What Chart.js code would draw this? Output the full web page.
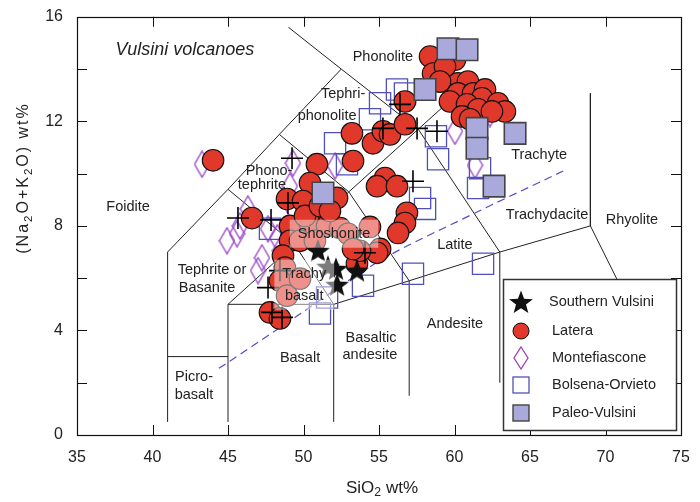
<!DOCTYPE html>
<html><head><meta charset="utf-8">
<script src="https://cdn.jsdelivr.net/npm/chart.js@4.4.1/dist/chart.umd.min.js"></script>
<style>html,body{margin:0;padding:0;background:#fff;}canvas{display:block;}</style>
</head><body>
<canvas id="c" width="700" height="502"></canvas>
<script>
const FONT = '"Liberation Sans", Arial, Helvetica, sans-serif';

// ---------- data ----------
const xTickMarks = [40, 45, 50, 55, 60, 65, 70];
const yTickMarks = [2, 4, 6, 8, 10, 12, 14];

// TAS field boundaries (SiO2, Na2O+K2O)
const tasFoidite = [[41,0.5],[41,7],[45,9.4],[48.4,11.5],[52.5,14]];
const tasPhonoliteTop = [[49,15.6],[52.5,14]];
const tasPhonoliteBase = [[52.5,14],[57.6,11.7],[63,7]];
const tasPicro = [[41,3],[45,3]];
const tasAlkaliUpper = [[45,0.5],[45,5],[49.4,7.3],[53,9.3],[57.6,11.7],[60,12.95]];
const tasSubalkaline = [[45,5],[52,5],[57,5.9],[63,7],[69,8]];
const tasBasalt = [[52,0.5],[52,5]];
const tasAndesite = [[57,1.5],[57,5.9]];
const tasDacite = [[63,2],[63,7]];
const tasTrachybasalt = [[45,9.4],[49.4,7.3],[52,5]];
const tasTrachyandesite = [[48.4,11.5],[53,9.3],[57,5.9]];
const tasRhyolite = [[69,13.07],[69,8],[71.5,5.1]];
const alkalineDivide = [[44.4,2.55],[48.45,4.11],[55.07,6.67],[60.56,8.27],[67.2,10.1]];

const montefiascone = [[43.28,10.36],[49.30,10.40],[52.09,10.29],[49.10,9.52],[46.32,8.65],[45.79,8.00],
  [45.60,7.70],[44.93,7.43],[47.25,6.78],[46.99,6.29],[48.44,7.05],[48.25,7.54],[47.65,7.89],[49.30,8.65],
  [60.03,11.62],[62.35,12.30],[61.36,10.32]];
const bolsenaOrvieto = [[56.19,13.22],[55.07,12.69],[54.40,12.08],[52.09,11.16],[52.88,10.36],[47.78,7.89],
  [51.09,4.65],[51.56,5.26],[53.94,5.71],[57.25,6.17],[57.72,9.07],[58.05,8.65],[58.77,11.43],[58.91,10.55],
  [61.89,6.55],[61.69,10.21],[61.56,9.45],[56.72,13.07]];
const latera = [[58.38,14.48],[58.58,13.83],[60.03,14.36],[59.37,14.10],[60.23,13.45],[60.89,13.52],[59.04,13.52],
  [60.23,13.07],[61.23,13.07],[62.02,13.22],[59.70,12.76],[61.82,12.88],[60.83,12.65],[61.56,12.46],[62.88,12.69],
  [63.34,12.38],[62.48,12.38],[60.50,12.19],[61.03,12.08],[56.72,12.76],
  [53.21,11.54],[54.60,11.16],[55.26,11.62],[55.73,11.50],[56.72,11.89],[53.28,10.48],[50.89,10.36],[44.01,10.51],
  [50.43,9.64],[48.91,9.03],[49.97,8.95],[52.22,9.07],[55.40,9.83],[54.87,9.52],[56.19,9.52],[56.85,8.50],
  [56.72,8.11],[56.26,7.73],[55.07,7.12],[53.54,6.55],[54.87,6.97],[53.74,7.05],[46.59,8.30],[49.11,8.00],
  [49.11,7.43],[48.64,6.86],[47.78,4.69],[48.44,4.46],[50.43,8.08],[51.56,8.00],[52.42,7.92],[52.95,7.70],
  [53.28,7.12],[54.40,7.96],[48.77,6.40],[48.44,5.90],[48.91,5.33],[49.77,5.98],[50.10,8.38],[51.09,8.76],
  [49.77,7.43],[50.76,7.43],[51.75,8.57]];
const paleoVulsini = [[59.57,14.78],[60.83,14.74],[58.05,13.22],[61.49,11.73],[61.49,10.97],[64.01,11.54],
  [62.62,9.52],[51.29,9.26]];
const unlabelledCrosses = [[49.24,10.59],[55.26,11.73],[56.39,12.65],[57.52,11.73],[58.84,11.62],[57.25,9.71],
  [45.66,8.30],[47.85,8.23],[48.97,8.88],[48.44,6.29],[47.65,5.64],[47.91,4.69],[48.58,4.50],[54.07,6.97]];
const southernVulsini = [[50.96,7.05],[51.62,6.44],[52.15,6.36],[52.22,5.75],[53.54,6.29]];

const seriesNames = ['Southern Vulsini','Latera','Montefiascone','Bolsena-Orvieto','Paleo-Vulsini'];

const regionLabels = [
  {t:['Phonolite'], x:55.26, y:14.48},
  {t:['Tephri-'], x:52.62, y:13.03},
  {t:['phonolite'], x:51.56, y:12.19},
  {t:['Phono-'], x:47.72, y:10.10},
  {t:['tephrite'], x:47.25, y:9.56},
  {t:['Foidite'], x:38.38, y:8.72},
  {t:['Tephrite or'], x:43.94, y:6.32},
  {t:['Basanite'], x:43.61, y:5.64},
  {t:['Shoshonite'], x:52.02, y:7.70, box:true},
  {t:['Trachy','basalt'], x:50.05, y:5.75, box:true},
  {t:['Basalt'], x:49.77, y:2.93},
  {t:['Picro-'], x:42.75, y:2.21},
  {t:['basalt'], x:42.75, y:1.52},
  {t:['Basaltic'], x:54.47, y:3.70},
  {t:['andesite'], x:54.40, y:3.05},
  {t:['Andesite'], x:60.03, y:4.23},
  {t:['Latite'], x:60.03, y:7.28},
  {t:['Trachydacite'], x:66.13, y:8.42},
  {t:['Rhyolite'], x:71.75, y:8.23},
  {t:['Trachyte'], x:65.60, y:10.70}
];

// ---------- marker images ----------
const COL = {
  latera:'#e0382a', mont:'#9640c8', bols:'#5050b8', paleoFill:'#a9a9dc', paleoLine:'#444', star:'#111'
};
function makeDiamond(w,h,color){
  const c=document.createElement('canvas'); c.width=w; c.height=h;
  const g=c.getContext('2d'); g.strokeStyle=color; g.lineWidth=1.3;
  g.beginPath(); g.moveTo(w/2,1); g.lineTo(w-1,h/2); g.lineTo(w/2,h-1); g.lineTo(1,h/2); g.closePath(); g.stroke();
  return c;
}
function makeStar(s,color){
  const c=document.createElement('canvas'); c.width=s; c.height=s;
  const g=c.getContext('2d'); g.fillStyle=color;
  const R=s/2-0.5, r=R*0.42, cx=s/2, cy=s/2+1;
  g.beginPath();
  for(let i=0;i<10;i++){const a=-Math.PI/2+i*Math.PI/5; const rr=i%2?r:R; g.lineTo(cx+rr*Math.cos(a), cy+rr*Math.sin(a));}
  g.closePath(); g.fill();
  return c;
}
const diamondImg = makeDiamond(17,28,COL.mont);
const starImg = makeStar(26,COL.star);

function pts(a){return a.map(p=>({x:p[0],y:p[1]}));}

const datasets = [];
[tasFoidite,tasPhonoliteTop,tasPhonoliteBase,tasPicro,tasAlkaliUpper,tasSubalkaline,tasBasalt,tasAndesite,
 tasDacite,tasTrachybasalt,tasTrachyandesite,tasRhyolite].forEach(seg=>{
  datasets.push({type:'line',data:pts(seg),borderColor:'#222',borderWidth:1,pointRadius:0,fill:false,tension:0,order:20});
});
datasets.push({type:'line',data:pts(alkalineDivide),borderColor:'#5a48c8',borderWidth:1.2,borderDash:[8,5],pointRadius:0,fill:false,tension:0.35,cubicInterpolationMode:'monotone',order:19});
datasets.push({label:seriesNames[2],data:pts(montefiascone),pointStyle:diamondImg,pointRadius:10,order:8});
datasets.push({label:seriesNames[3],data:pts(bolsenaOrvieto),pointStyle:'rect',pointRadius:15,backgroundColor:'rgba(0,0,0,0)',borderColor:COL.bols,borderWidth:1.3,order:7});
datasets.push({label:seriesNames[1],data:pts(latera),pointStyle:'circle',pointRadius:10.8,backgroundColor:COL.latera,borderColor:'#111',borderWidth:1.1,order:6});
datasets.push({label:seriesNames[4],data:pts(paleoVulsini),pointStyle:'rect',pointRadius:15.2,backgroundColor:COL.paleoFill,borderColor:COL.paleoLine,borderWidth:1.6,order:5});
datasets.push({label:'',data:pts(unlabelledCrosses),pointStyle:'cross',pointRadius:11,borderColor:'#000',borderWidth:1.6,order:4});
datasets.push({label:seriesNames[0],data:pts(southernVulsini),pointStyle:starImg,pointRadius:12,order:3});

// ---------- plugins ----------
function line(ctx,x1,y1,x2,y2){ctx.beginPath();ctx.moveTo(x1,y1);ctx.lineTo(x2,y2);ctx.stroke();}
const framePlugin = {
  id:'frame',
  beforeDatasetsDraw(chart){
    const {ctx,chartArea:a,scales:{x,y}}=chart;
    ctx.save(); ctx.strokeStyle='#111'; ctx.lineWidth=1.2;
    ctx.strokeRect(Math.round(a.left)+0.5,Math.round(a.top)+0.5,Math.round(a.right-a.left),Math.round(a.bottom-a.top));
    ctx.lineWidth=1;
    xTickMarks.forEach(v=>{const p=Math.round(x.getPixelForValue(v))+0.5; line(ctx,p,a.bottom,p,a.bottom-10); line(ctx,p,a.top,p,a.top+10);});
    yTickMarks.forEach(v=>{const p=Math.round(y.getPixelForValue(v))+0.5; line(ctx,a.left,p,a.left+10,p); line(ctx,a.right,p,a.right-10,p);});
    ctx.restore();
  }
};
function drawRich(ctx,parts,cx,cy,size){
  let w=0;
  parts.forEach(([t,s])=>{ctx.font=(s?size*0.72:size)+'px '+FONT; w+=ctx.measureText(t).width;});
  let xx=cx-w/2;
  parts.forEach(([t,s])=>{ctx.font=(s?size*0.72:size)+'px '+FONT; ctx.fillText(t,xx,cy+(s?size*0.3:0)); xx+=ctx.measureText(t).width;});
}
const annotPlugin = {
  id:'annot',
  afterDatasetsDraw(chart){
    const {ctx,scales:{x,y}}=chart;
    ctx.save();
    ctx.textAlign='center'; ctx.textBaseline='middle';
    const fs=14.5, lh=22;
    ctx.font=fs+'px '+FONT;
    regionLabels.forEach(L=>{
      const px=x.getPixelForValue(L.x), py=y.getPixelForValue(L.y);
      const n=L.t.length; const y0=py-(n-1)*lh/2;
      if(L.box){
        let w=0; L.t.forEach(t=>{w=Math.max(w,ctx.measureText(t).width);});
        ctx.fillStyle='rgba(255,255,255,0.45)';
        const bw=w+16, bh=(n-1)*lh+28;
        ctx.fillRect(px-bw/2,py-bh/2,bw,bh);
      }
      ctx.fillStyle='#222';
      L.t.forEach((t,i)=>ctx.fillText(t,px,y0+i*lh));
    });
    // italic title
    ctx.font='italic 18px '+FONT; ctx.fillStyle='#222';
    ctx.fillText('Vulsini volcanoes', x.getPixelForValue(42.15), y.getPixelForValue(14.74));

    // legend
    const L={x:503,y:279,w:173,h:151};
    ctx.fillStyle='#fff'; ctx.fillRect(L.x,L.y,L.w,L.h);
    ctx.strokeStyle='#333'; ctx.lineWidth=1.5; ctx.strokeRect(L.x+0.5,L.y+0.5,L.w,L.h);
    const rows=[302,331,358,385,413], mx=521, tx=549;
    ctx.drawImage(starImg,mx-starImg.width/2,rows[0]-starImg.height/2);
    ctx.beginPath(); ctx.arc(mx,rows[1],8,0,Math.PI*2); ctx.fillStyle=COL.latera; ctx.fill(); ctx.strokeStyle='#111'; ctx.lineWidth=1; ctx.stroke();
    const dl=makeDiamond(16,24,'#a040b8'); ctx.drawImage(dl,mx-8,rows[2]-12);
    ctx.strokeStyle=COL.bols; ctx.lineWidth=1.3; ctx.strokeRect(mx-8,rows[3]-8,16,16);
    ctx.fillStyle=COL.paleoFill; ctx.fillRect(mx-8,rows[4]-8,16,16); ctx.strokeStyle=COL.paleoLine; ctx.lineWidth=1.4; ctx.strokeRect(mx-8,rows[4]-8,16,16);
    ctx.fillStyle='#222'; ctx.textAlign='left'; ctx.font=fs+'px '+FONT;
    [0,1,2,3,4].forEach((k,i)=>ctx.fillText(seriesNames[k], i===0?tx:tx+3, rows[i]));

    // axis titles
    ctx.textAlign='left'; ctx.textBaseline='middle'; ctx.fillStyle='#222';
    drawRich(ctx,[['SiO',0],['2',1],[' wt%',0]],382,488,17);
    ctx.save(); ctx.translate(24,178); ctx.rotate(-Math.PI/2);
    ctx.letterSpacing='2px';
    drawRich(ctx,[['(Na',0],['2',1],['O+K',0],['2',1],['O) wt%',0]],0,0,16);
    ctx.restore();
    ctx.restore();
  }
};

new Chart(document.getElementById('c'),{
  type:'scatter',
  data:{datasets},
  plugins:[framePlugin,annotPlugin],
  options:{
    responsive:false, animation:false, devicePixelRatio:1,
    layout:{padding:{top:15,right:19,left:0,bottom:0}},
    plugins:{legend:{display:false},tooltip:{enabled:false}},
    elements:{line:{borderCapStyle:'butt'}},
    scales:{
      x:{type:'linear',min:35,max:75,
        ticks:{stepSize:5,padding:13,color:'#222',font:{family:FONT,size:16}},
        grid:{display:false,drawTicks:false},border:{display:false},
        afterFit(s){s.height=67; s.paddingLeft=0; s.paddingRight=0;}},
      y:{type:'linear',min:0,max:16,
        ticks:{stepSize:4,padding:14,color:'#222',font:{family:FONT,size:16}},
        grid:{display:false,drawTicks:false},border:{display:false},
        afterFit(s){s.width=77; s.paddingTop=0; s.paddingBottom=0;}}
    }
  }
});
</script>
</body></html>
